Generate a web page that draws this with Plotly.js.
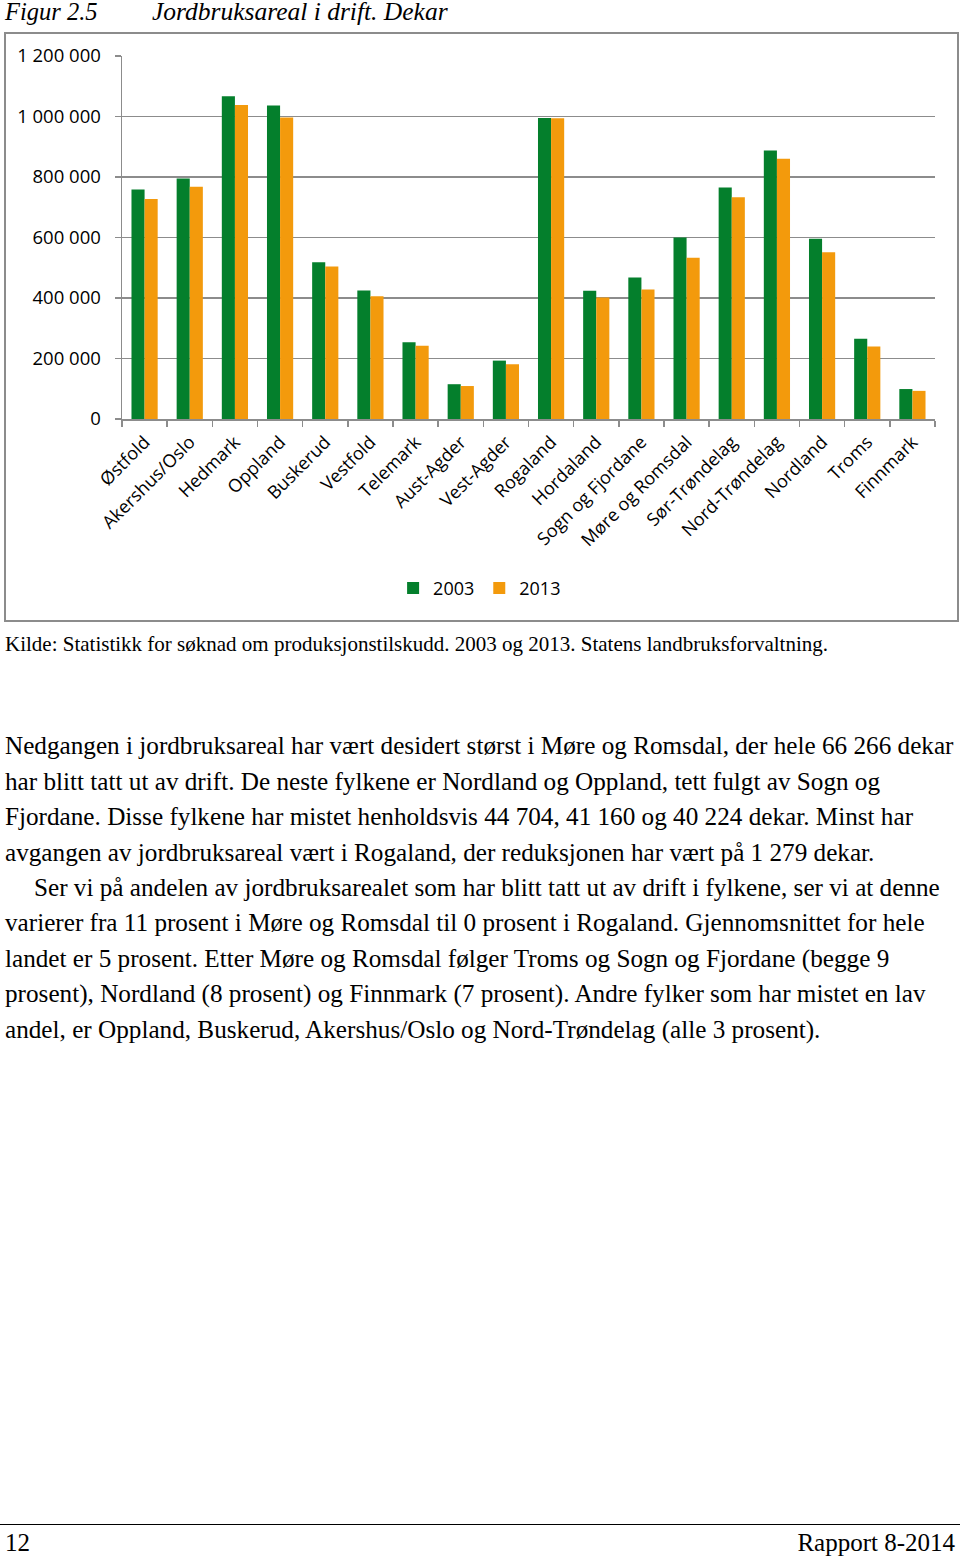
<!DOCTYPE html>
<html>
<head>
<meta charset="utf-8">
<script src="https://cdn.plot.ly/plotly-3.0.1.min.js"></script>
<style>
  body { margin: 0; background: #fff; width: 960px; height: 1557px; position: relative; font-family: "Liberation Serif", "Times New Roman", serif; color: #000; }
  .fig { position: absolute; top: -2px; line-height: 28px; font-size: 25px; font-style: italic; white-space: nowrap; }
  #frame { position: absolute; left: 4px; top: 32px; width: 951px; height: 586px; border: 2px solid #8c8c8c; }
  #plot { position: absolute; left: 0; top: 0; width: 951px; height: 586px; }
  .src { position: absolute; left: 5px; top: 632px; line-height: 24px; font-size: 21px; white-space: nowrap; }
  .ln { position: absolute; left: 5px; line-height: 30px; font-size: 25.2px; white-space: nowrap; }
  #rule { position: absolute; left: 0; top: 1524px; width: 960px; height: 0; border-top: 1.5px solid #000; }
  .foot { position: absolute; top: 1528px; line-height: 30px; font-size: 25px; white-space: nowrap; }
</style>
</head>
<body>
<div class="fig" style="left:5px; font-size:24.5px">Figur 2.5</div>
<div class="fig" style="left:152px; font-size:25.5px">Jordbruksareal i drift. Dekar</div>
<div id="frame"><div id="plot"></div></div>
<div class="src">Kilde: Statistikk for søknad om produksjonstilskudd. 2003 og 2013. Statens landbruksforvaltning.</div>

<div class="ln" style="top:731px">Nedgangen i jordbruksareal har vært desidert størst i Møre og Romsdal, der hele 66 266 dekar</div>
<div class="ln" style="top:767px">har blitt tatt ut av drift. De neste fylkene er Nordland og Oppland, tett fulgt av Sogn og</div>
<div class="ln" style="top:802px">Fjordane. Disse fylkene har mistet henholdsvis 44 704, 41 160 og 40 224 dekar. Minst har</div>
<div class="ln" style="top:838px">avgangen av jordbruksareal vært i Rogaland, der reduksjonen har vært på 1 279 dekar.</div>
<div class="ln" style="top:873px; left:34px">Ser vi på andelen av jordbruksarealet som har blitt tatt ut av drift i fylkene, ser vi at denne</div>
<div class="ln" style="top:908px">varierer fra 11 prosent i Møre og Romsdal til 0 prosent i Rogaland. Gjennomsnittet for hele</div>
<div class="ln" style="top:944px">landet er 5 prosent. Etter Møre og Romsdal følger Troms og Sogn og Fjordane (begge 9</div>
<div class="ln" style="top:979px">prosent), Nordland (8 prosent) og Finnmark (7 prosent). Andre fylker som har mistet en lav</div>
<div class="ln" style="top:1015px">andel, er Oppland, Buskerud, Akershus/Oslo og Nord-Trøndelag (alle 3 prosent).</div>

<div id="rule"></div>
<div class="foot" style="left:5px">12</div>
<div class="foot" style="right:5px">Rapport 8-2014</div>

<script>
var fylker = ['Østfold', 'Akershus/Oslo', 'Hedmark', 'Oppland', 'Buskerud', 'Vestfold',
  'Telemark', 'Aust-Agder', 'Vest-Agder', 'Rogaland', 'Hordaland', 'Sogn og Fjordane',
  'Møre og Romsdal', 'Sør-Trøndelag', 'Nord-Trøndelag', 'Nordland', 'Troms', 'Finnmark'];

// dekar, lest av figuren
var areal2003 = [759000, 795000, 1067000, 1036000, 518000, 425000, 254000, 115000, 193000,
  995000, 424000, 468000, 600000, 765000, 888000, 596000, 265000, 99000];
var areal2013 = [727000, 768000, 1038000, 997000, 504000, 406000, 242000, 109000, 181000,
  994000, 402000, 428000, 533000, 733000, 860000, 551000, 240000, 93000];

var trace1 = {
  x: fylker,
  y: areal2003,
  name: '2003',
  type: 'bar',
  marker: {color: '#047f2c'}
};

var trace2 = {
  x: fylker,
  y: areal2013,
  name: '2013',
  type: 'bar',
  marker: {color: '#f39a0c'}
};

var grey = '#8c8c8c';
var tickFont = {family: 'Open Sans, sans-serif', size: 18, color: '#000'};

var layout = {
  width: 951,
  height: 586,
  margin: {l: 116, r: 22, t: 22, b: 201},
  barmode: 'group',
  bargap: 0.42,
  bargroupgap: 0,
  separators: ', ',
  paper_bgcolor: '#fff',
  plot_bgcolor: '#fff',
  showlegend: true,
  legend: {
    orientation: 'h',
    xref: 'container', yref: 'container',
    x: 0.498, xanchor: 'center',
    y: 0.054, yanchor: 'middle',
    font: tickFont,
    itemwidth: 30,
    traceorder: 'normal'
  },
  xaxis: {
    type: 'category',
    tickangle: -45,
    tickfont: tickFont,
    ticklabelstandoff: 4,
    showline: true, linecolor: grey, linewidth: 1.5,
    ticks: 'outside', tickson: 'boundaries', ticklen: 6, tickcolor: grey, tickwidth: 1.5,
    showgrid: false
  },
  yaxis: {
    range: [0, 1200000],
    dtick: 200000,
    tickformat: ',d',
    tickfont: {family: 'Open Sans, sans-serif', size: 18.5, color: '#000'},
    ticklabelstandoff: 10,
    showline: true, linecolor: grey, linewidth: 1.5,
    ticks: 'outside', ticklen: 6, tickcolor: grey, tickwidth: 1.5,
    gridcolor: grey, gridwidth: 1.5,
    zeroline: false
  }
};

Plotly.newPlot('plot', [trace1, trace2], layout, {displayModeBar: false, staticPlot: true});
</script>
</body>
</html>
